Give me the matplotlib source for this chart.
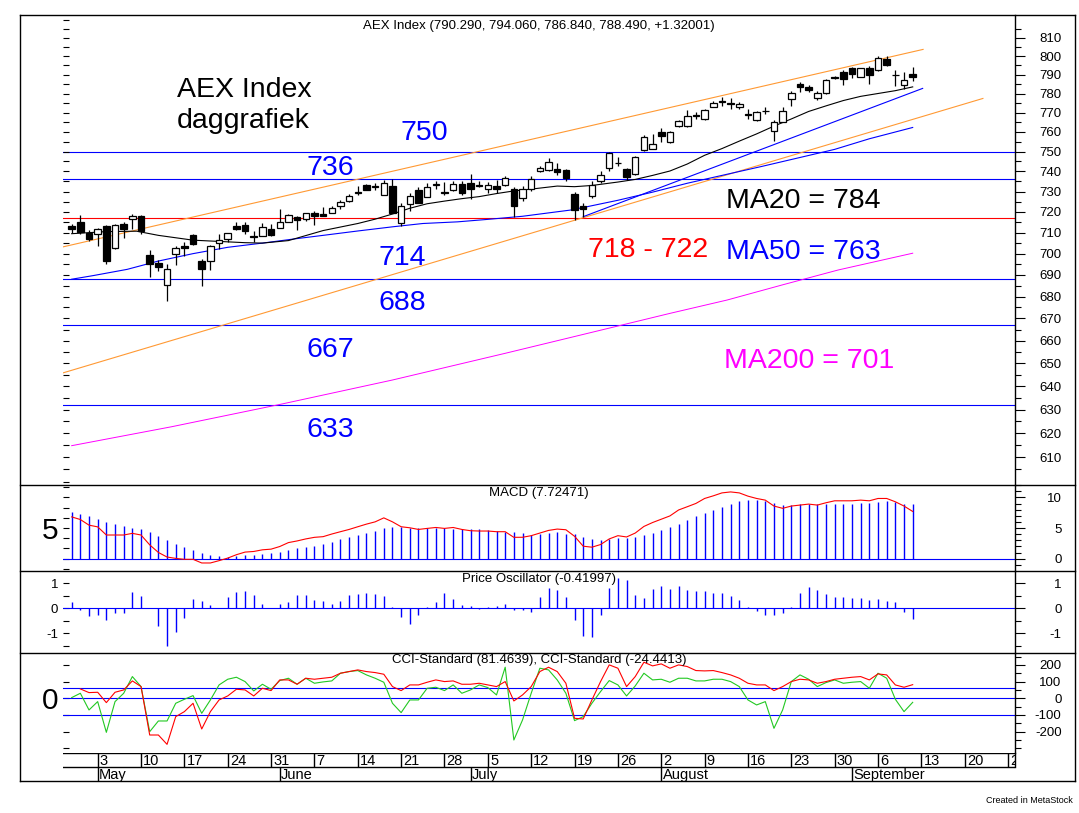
import matplotlib
matplotlib.use('Agg')
import matplotlib.pyplot as plt
from matplotlib.lines import Line2D
from matplotlib.ticker import FixedLocator, FixedFormatter, NullLocator, NullFormatter, FuncFormatter
import numpy as np

plt.rcParams['font.family'] = ['Liberation Sans', 'DejaVu Sans']

# ---------------- data ----------------
# trading days 28 Apr 2021 .. 10 Sep 2021 (index 0..97)
opens = [713.1, 715.2, 709.9, 709.2, 713.2, 702.6, 714.2, 716.5, 717.9, 699.4,
         695.4, 685.4, 699.6, 703.7, 708.8, 696.6, 696.4, 705.1, 707.1, 713.2,
         713.5, 708.2, 708.5, 711.6, 712.1, 715.0, 717.5, 716.5, 719.7, 719.0,
         719.4, 723.0, 725.5, 730.0, 733.1, 732.5, 728.5, 732.7, 714.5, 723.9,
         730.7, 727.3, 733.3, 730.0, 730.7, 733.7, 734.3, 733.1, 731.1, 732.6,
         733.1, 731.5, 726.7, 731.1, 740.2, 740.7, 741.1, 740.5, 728.9, 722.9,
         727.6, 735.1, 741.5, 744.0, 741.1, 738.6, 750.6, 751.4, 760.2, 755.0,
         763.1, 763.1, 768.6, 766.6, 773.1, 776.0, 774.9, 773.1, 769.4, 766.1,
         771.0, 760.3, 765.2, 777.0, 785.2, 783.7, 777.8, 780.3, 788.9, 791.4,
         793.4, 788.9, 793.4, 792.4, 798.2, 790.0, 784.7, 790.29]
highs = [714.0, 718.5, 711.2, 712.3, 713.7, 714.0, 715.3, 718.9, 718.5, 701.5,
         697.0, 695.2, 703.5, 705.3, 709.5, 697.5, 704.0, 709.2, 709.8, 715.3,
         715.0, 710.8, 714.8, 714.0, 721.5, 719.0, 718.1, 719.4, 720.5, 722.3,
         723.0, 726.0, 729.0, 732.7, 733.5, 734.3, 735.9, 736.0, 724.3, 729.5,
         732.0, 734.3, 735.1, 734.5, 735.3, 735.3, 738.5, 735.1, 734.9, 735.5,
         737.5, 732.3, 732.5, 737.5, 742.5, 746.7, 744.3, 741.0, 730.0, 724.5,
         735.1, 740.2, 749.9, 747.0, 741.5, 747.5, 758.3, 758.8, 762.0, 760.5,
         766.3, 771.3, 770.1, 771.8, 776.0, 778.0, 777.6, 775.6, 771.9, 771.0,
         772.7, 766.3, 772.7, 781.1, 786.1, 784.3, 781.1, 787.8, 789.4, 792.5,
         794.0, 793.8, 794.4, 800.0, 800.0, 792.5, 791.6, 794.06]
lows = [710.0, 709.5, 705.9, 703.5, 694.9, 702.1, 707.2, 711.6, 709.5, 689.2,
        691.8, 678.0, 694.8, 699.1, 704.3, 684.7, 692.1, 702.0, 705.5, 711.5,
        709.5, 705.5, 708.5, 708.5, 712.1, 715.0, 711.5, 715.5, 713.7, 717.8,
        719.4, 721.5, 725.0, 728.3, 730.7, 730.7, 728.5, 719.4, 713.2, 720.5,
        724.3, 727.3, 731.5, 728.2, 730.5, 728.1, 726.5, 732.0, 729.5, 729.1,
        732.5, 717.5, 725.5, 730.5, 739.5, 740.0, 738.0, 735.0, 716.1, 717.5,
        727.0, 734.3, 740.0, 742.5, 735.5, 738.3, 750.3, 751.2, 755.0, 754.5,
        762.5, 762.8, 766.9, 766.3, 772.8, 773.7, 772.0, 772.0, 766.9, 765.8,
        769.2, 755.3, 765.0, 773.2, 780.7, 780.7, 776.5, 780.0, 787.5, 784.7,
        788.0, 788.5, 784.8, 792.2, 794.4, 784.1, 782.2, 786.84]
closes = [711.6, 710.1, 707.0, 711.6, 696.5, 713.7, 711.9, 717.9, 710.9, 695.2,
          693.9, 693.0, 702.5, 702.8, 704.6, 692.8, 703.5, 706.3, 709.6, 711.9,
          710.9, 707.9, 712.5, 709.0, 715.2, 718.5, 716.0, 719.4, 718.1, 718.0,
          721.9, 725.0, 727.9, 729.5, 730.7, 732.3, 734.3, 719.4, 723.1, 727.6,
          724.3, 732.0, 733.7, 729.5, 733.7, 729.1, 731.1, 732.9, 733.1, 731.1,
          736.9, 722.7, 731.5, 736.2, 741.9, 744.7, 739.9, 736.8, 721.1, 721.3,
          733.3, 738.3, 749.2, 744.3, 737.3, 747.1, 757.6, 754.0, 757.9, 760.0,
          765.7, 768.0, 768.4, 771.3, 774.9, 775.6, 774.5, 774.5, 769.0, 770.1,
          770.6, 765.2, 770.8, 780.2, 783.2, 781.9, 780.3, 787.0, 788.0, 787.8,
          790.5, 793.4, 790.0, 798.8, 795.1, 789.6, 787.17, 788.49]

# moving averages sampled along the chart (index, value)
ma20_x = [0, 4, 7.5, 10, 14, 20, 22, 25, 29, 33, 35, 37, 39, 41, 43, 45, 47, 49, 51, 53,
          56, 58, 60, 63, 65, 67, 69, 71, 73, 75, 77, 79, 81, 83, 85, 87, 89, 91, 93, 95, 97]
ma20_v = [709.5, 710.5, 710.7, 708.7, 706.4, 705.2, 705.0, 706.2, 711.0, 714.4, 716.5, 719.0,
          721.8, 724.0, 725.3, 726.5, 727.5, 729.0, 730.3, 731.2, 732.7, 732.4, 733.0, 734.7,
          736.0, 738.0, 740.2, 743.7, 748.1, 751.5, 755.3, 759.0, 763.0, 766.7, 770.6, 773.5,
          776.3, 778.5, 780.0, 781.5, 783.5]
ma50_x = [0, 2.5, 6.4, 10, 14, 18, 22, 25.5, 29, 33, 37, 40.5, 44.5, 48, 52, 57.5, 59.5,
          63, 67, 71, 75, 79.5, 88, 92, 97]
ma50_v = [688.0, 689.7, 692.6, 696.5, 700.0, 703.0, 705.0, 706.9, 708.7, 710.8, 712.8, 714.4,
          715.2, 716.4, 717.9, 720.9, 722.6, 725.7, 729.7, 734.1, 738.0, 742.4, 751.1, 756.5, 762.3]
ma200_x = [0, 11.5, 24.3, 37, 50, 62.7, 69, 75.6, 82, 88.4, 97]
ma200_v = [614.8, 622.7, 632.4, 642.7, 654.4, 666.3, 672.3, 678.4, 685.4, 692.3, 700.2]

# trend lines (index, value) endpoints
upper_ch_x, upper_ch_v = [-1.0, 98.2], [703.2, 803.6]
lower_ch_x, lower_ch_v = [-1.0, 105.1], [645.8, 777.4]
blue_tr_x, blue_tr_v = [59.0, 98.15], [717.7, 782.7]

blue_levels = [750, 736, 688, 667, 632]
red_level = 717

macd_hist = [7.63, 7.37, 7.04, 6.56, 6.02, 5.59, 5.27, 4.95, 4.78, 4.30,
             3.71, 3.06, 2.37, 1.88, 1.45, 0.91, 0.59, 0.43, 0.32, 0.38,
             0.54, 0.65, 0.75, 0.91, 1.13, 1.45, 1.67, 1.94, 2.15, 2.42,
             2.80, 3.17, 3.49, 3.82, 4.14, 4.57, 4.95, 5.16, 5.16, 5.05,
             4.95, 5.00, 5.05, 4.95, 4.89, 4.84, 4.78, 4.78, 4.68, 4.52,
             4.30, 4.30, 4.20, 3.90, 4.10, 4.20, 4.30, 4.00, 4.00, 3.50,
             3.20, 3.00, 3.20, 3.30, 3.40, 3.50, 3.80, 4.20, 4.70, 5.20,
             5.70, 6.30, 6.90, 7.40, 8.00, 8.50, 8.90, 9.50, 9.60, 9.60,
             9.50, 9.10, 8.70, 8.70, 8.90, 8.90, 8.90, 8.90, 9.00, 9.00,
             9.00, 9.10, 9.10, 9.30, 9.50, 9.20, 9.00, 8.90]
macd_line = [6.83, 6.40, 5.48, 5.20, 3.87, 3.87, 3.87, 4.14, 3.87, 2.26,
             1.02, 0.27, 0.05, -0.10, -0.10, -0.70, -0.70, -0.32, 0.10, 0.65,
             1.08, 1.18, 1.45, 1.56, 1.99, 2.63, 2.90, 3.23, 3.49, 3.60,
             4.03, 4.41, 4.78, 5.22, 5.65, 6.02, 6.67, 6.02, 5.22, 5.05,
             4.78, 4.95, 5.10, 4.95, 5.10, 4.78, 4.57, 4.52, 4.52, 4.41,
             4.41, 3.49, 3.50, 3.76, 4.19, 4.62, 4.84, 4.73, 3.66, 2.04,
             1.88, 2.31, 3.23, 3.76, 3.55, 4.19, 5.27, 5.91, 6.45, 6.99,
             7.96, 8.49, 9.03, 9.84, 10.27, 10.75, 10.91, 10.75, 10.22, 9.84,
             9.57, 8.60, 8.23, 8.60, 8.76, 8.92, 8.76, 9.14, 9.46, 9.46,
             9.46, 9.57, 9.46, 9.84, 9.84, 9.30, 8.60, 7.72]
price_osc = [0.26, -0.08, -0.30, -0.26, -0.48, -0.19, -0.19, 0.66, 0.48, 0.0,
             -0.72, -1.50, -0.94, -0.39, 0.38, 0.30, 0.13, 0.0, 0.44, 0.66,
             0.71, 0.52, 0.17, 0.0, 0.17, 0.26, 0.54, 0.54, 0.34, 0.30,
             0.17, 0.30, 0.54, 0.59, 0.62, 0.58, 0.50, 0.05, -0.34, -0.62,
             -0.26, 0.05, 0.26, 0.62, 0.38, 0.13, 0.08, -0.04, 0.04, 0.08,
             0.17, -0.05, -0.08, -0.16, 0.46, 0.82, 0.74, 0.46, -0.49, -1.11,
             -1.16, -0.26, 0.82, 1.23, 1.14, 0.54, 0.42, 0.78, 0.91, 0.78,
             0.91, 0.74, 0.70, 0.70, 0.62, 0.62, 0.50, 0.34, 0.05, -0.12,
             -0.28, -0.28, -0.19, 0.04, 0.62, 0.86, 0.72, 0.58, 0.46, 0.46,
             0.42, 0.42, 0.34, 0.38, 0.30, 0.26, -0.14, -0.42]
cci_red = [np.nan, 56, 34, 36, -26, 36, 50, 104, 70, -220,
           -220, -276, -110, -80, -30, -184, -80, -10, 14, 54,
           50, 14, 60, 46, 110, 110, 84, 120, 114, 120,
           126, 150, 160, 170, 160, 154, 144, 70, 46, 80,
           80, 96, 110, 100, 104, 84, 84, 90, 80, 70,
           100, -16, 20, 70, 160, 186, 160, 90, -120, -124,
           -10, 100, 200, 180, 70, 130, 216, 194, 206, 180,
           200, 190, 166, 164, 166, 154, 140, 120, 90, 80,
           80, 46, 70, 100, 114, 110, 90, 100, 114, 120,
           126, 130, 110, 146, 140, 80, 66, 81.5]
cci_green = [4, 30, -70, -20, -204, -20, 30, 130, 70, -200,
             -136, -136, -30, -6, 16, -90, -10, 80, 114, 126,
             100, 44, 84, 54, 106, 120, 84, 120, 90, 98,
             104, 150, 160, 166, 140, 120, 96, -30, -86, -10,
             -10, 60, 66, 46, 80, 30, 50, 80, 64, 20,
             186, -250, -130, 30, 180, 170, 110, 30, -134, -110,
             -30, 40, 106, 80, 14, 74, 150, 110, 114, 96,
             120, 120, 104, 104, 114, 114, 100, 70, -10, -40,
             -20, -180, -70, 100, 140, 114, 70, 94, 110, 90,
             96, 100, 60, 150, 120, -6, -80, -24.4]
cci_levels = [60, 0, -100]

week_idx = [3, 8, 13, 18, 23, 28, 33, 38, 43, 48, 53, 58, 63, 68, 73, 78, 83, 88, 93, 98, 103, 108]
week_lbl = ['3', '10', '17', '24', '31', '7', '14', '21', '28', '5', '12', '19', '26',
            '2', '9', '16', '23', '30', '6', '13', '20', '27']
month_idx = [3, 24, 46, 68, 90]
month_lbl = ['May', 'June', 'July', 'August', 'September']

main_title = 'AEX Index (790.290, 794.060, 786.840, 788.490, +1.32001)'
macd_title = 'MACD (7.72471)'
osc_title = 'Price Oscillator (-0.41997)'
cci_title = 'CCI-Standard (81.4639), CCI-Standard (-24.4413)'

# ---------------- figure / layout ----------------
W, H = 1079, 813
fig = plt.figure(figsize=(W / 100, H / 100), dpi=100)
fig.patch.set_facecolor('white')

def fx(px):
    return px / W

def fy(py):
    return 1 - py / H

L, R = 63, 1015
XLIM = (-1.0, 108.8)
BLUE, RED = '#0000FF', '#FF0000'
ORANGE, MAGENTA, GREEN = '#FF9933', '#FF00FF', '#22C822'
LW = 0.8

def add_panel(top, bottom):
    a = fig.add_axes([fx(L), fy(bottom), (R - L) / W, (bottom - top) / H])
    a.set_xlim(*XLIM)
    a.set_facecolor('none')
    for s in a.spines.values():
        s.set_visible(False)
    a.tick_params(axis='x', bottom=False, labelbottom=False)
    return a

def fig_line(x0, x1, y0, y1, lw=1.0):
    fig.add_artist(Line2D([fx(x0), fx(x1)], [fy(y0), fy(y1)], transform=fig.transFigure,
                          color='black', lw=lw))

def right_axis(a, major, minor, log=False):
    t = a.twinx()
    if log:
        t.set_yscale('log')
    t.set_ylim(a.get_ylim())
    for k, s in t.spines.items():
        s.set_visible(k == 'right')
    t.spines['right'].set_linewidth(1.0)
    t.yaxis.set_major_locator(FixedLocator(major))
    t.yaxis.set_minor_locator(FixedLocator(minor))
    t.yaxis.set_major_formatter(FuncFormatter(lambda v, p: f'{v:.0f}'))
    t.yaxis.set_minor_formatter(NullFormatter())
    t.tick_params(axis='y', which='major', direction='out', length=7, width=0.8,
                  pad=26.5, labelsize=9.5)
    t.tick_params(axis='y', which='minor', direction='out', length=4, width=0.8)
    for lbl in t.get_yticklabels():
        lbl.set_horizontalalignment('right')
    return t

def left_ticks(a, locs, labels, size):
    a.yaxis.set_major_locator(FixedLocator(locs))
    a.yaxis.set_minor_locator(NullLocator())
    a.yaxis.set_major_formatter(FixedFormatter(labels))
    a.tick_params(axis='y', which='major', direction='in', length=4, width=0.8,
                  pad=3.6, labelsize=size, left=True, right=False)

# ---------------- main price panel ----------------
ax = add_panel(15, 484.7)
ax.set_yscale('log')
ax.set_ylim(598.8, 822.5)
idx = np.arange(len(closes))
o = np.array(opens); c = np.array(closes); h = np.array(highs); l = np.array(lows)

for lv in blue_levels:
    ax.axhline(lv, color=BLUE, lw=LW, zorder=1)
ax.axhline(red_level, color=RED, lw=LW, zorder=1)
ax.plot(upper_ch_x, upper_ch_v, color=ORANGE, lw=LW, zorder=1)
ax.plot(lower_ch_x, lower_ch_v, color=ORANGE, lw=LW, zorder=1)
ax.plot(blue_tr_x, blue_tr_v, color=BLUE, lw=LW, zorder=1)
ax.plot(ma200_x, ma200_v, color=MAGENTA, lw=0.7, zorder=1)
ax.plot(ma50_x, ma50_v, color=BLUE, lw=LW, zorder=1)
ax.plot(ma20_x, ma20_v, color='black', lw=LW, zorder=1)

ax.vlines(idx, l, h, color='black', lw=0.9, zorder=2)
up = c >= o
bottoms = np.minimum(o, c)
heights = np.maximum(np.abs(c - o), 0.05)
ax.bar(idx[up], heights[up], bottom=bottoms[up], width=0.75, facecolor='white',
       edgecolor='black', linewidth=0.9, zorder=3)
ax.bar(idx[~up], heights[~up], bottom=bottoms[~up], width=0.75, facecolor='black',
       edgecolor='black', linewidth=0.9, zorder=3)

left_ticks(ax, list(range(600, 825, 5)), [''] * len(range(600, 825, 5)), 9)
ax.tick_params(axis='y', labelleft=False)
right_axis(ax, list(range(610, 811, 10)), list(range(605, 821, 10)), log=True)

def mpos(px, py):
    return ((px - L) / (R - L), 1 - (py - 15) / 469.7)

big = 20.5
notes = [('AEX Index', 177, 97, 'black'), ('daggrafiek', 177, 128, 'black'),
         ('750', 400, 140, BLUE), ('736', 307, 175, BLUE), ('714', 379, 265, BLUE),
         ('688', 379, 310, BLUE), ('667', 307, 357, BLUE), ('633', 307, 437, BLUE),
         ('718 - 722', 588, 257, RED), ('MA20 = 784', 726, 208, 'black'),
         ('MA50 = 763', 726, 259, BLUE), ('MA200 = 701', 724, 368, MAGENTA)]
for txt, px, py, col in notes:
    ax.text(*mpos(px, py), txt, transform=ax.transAxes, fontsize=big, color=col,
            ha='left', va='baseline', zorder=5)
ax.text(0.5, 1 - 5 / 469.7, main_title, transform=ax.transAxes, ha='center', va='top',
        fontsize=9.5)

# ---------------- MACD ----------------
axm = add_panel(484.7, 571.3)
axm.set_ylim(-2.06, 12.09)
axm.axhline(0, color=BLUE, lw=LW)
axm.vlines(idx, 0, macd_hist, color=BLUE, lw=1.0)
axm.plot(idx, macd_line, color=RED, lw=LW)
left_ticks(axm, [-5 / 3, 0, 5 / 3, 10 / 3, 5, 20 / 3, 25 / 3, 10, 35 / 3],
           ['', '', '', '', '5', '', '', '', ''], 21.5)
right_axis(axm, [0, 5, 10], [-1, 1, 2, 3, 4, 6, 7, 8, 9, 11, 12])
axm.text(0.5, 1 - 2.5 / 86.6, macd_title, transform=axm.transAxes, ha='center', va='top',
         fontsize=9.5)

# ---------------- Price oscillator ----------------
axo = add_panel(571.3, 652.7)
axo.set_ylim(-1.78, 1.48)
axo.axhline(0, color=BLUE, lw=LW)
axo.vlines(idx, 0, price_osc, color=BLUE, lw=1.0)
left_ticks(axo, [-1.5, -1, -0.5, 0, 0.5, 1], ['', '-1', '', '0', '', '1'], 9.5)
right_axis(axo, [-1, 0, 1], [-1.5, -0.5, 0.5])
axo.text(0.5, 1 - 2.0 / 81.4, osc_title, transform=axo.transAxes, ha='center', va='top',
         fontsize=9.5)

# ---------------- CCI ----------------
axc = add_panel(652.7, 752.7)
axc.set_ylim(-326, 273)
for lv in cci_levels:
    axc.axhline(lv, color=BLUE, lw=LW)
axc.plot(idx, cci_green, color=GREEN, lw=LW)
axc.plot(idx, cci_red, color=RED, lw=LW)
left_ticks(axc, [-300, -200, -100, 0, 100, 200], ['', '', '', '0', '', ''], 21.5)
right_axis(axc, [-200, -100, 0, 100, 200], [-300, -250, -150, -50, 50, 150, 250])
axc.text(0.5, 1 - 1.5 / 100, cci_title, transform=axc.transAxes, ha='center', va='top',
         fontsize=9.5)

# ---------------- date axis ----------------
axd = add_panel(752.7, 781)
axd.set_ylim(0, 1)
axd.tick_params(axis='y', left=False, labelleft=False)
ys = (781 - 766.7) / 28.3
axd.axhline(1, color='black', lw=1.0)
axd.axhline(ys, color='black', lw=1.0)
axd.vlines(week_idx, ys, 1, color='black', lw=1.0)
axd.vlines(month_idx, 0, ys, color='black', lw=1.0)
for i, t in zip(week_idx, week_lbl):
    axd.text(i + 0.25, 0.55, t, ha='left', va='baseline', fontsize=10.5, clip_on=True)
for i, t in zip(month_idx, month_lbl):
    axd.text(i + 0.15, 0.06, t, ha='left', va='baseline', fontsize=10.5, clip_on=True)

# ---------------- frame ----------------
fig_line(20, 1075, 15, 15)
fig_line(20, 1075, 781, 781)
fig_line(20, 20, 15, 781)
fig_line(1075, 1075, 15, 781)
for yy in (484.7, 571.3, 652.7):
    fig_line(20, 1075, yy, yy)
fig_line(R, R, 752.7, 766.7)

fig.text(fx(1073), fy(800), 'Created in MetaStock', ha='right', va='center', fontsize=6.5)

fig.savefig('out.png', dpi=100, facecolor='white')
